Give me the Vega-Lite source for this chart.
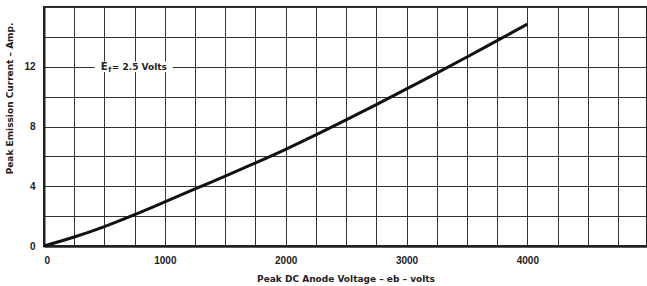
{
  "$schema": "https://vega.github.io/schema/vega-lite/v6.json",
  "autosize": "none",
  "padding": {"left": 44, "top": 7, "right": 0, "bottom": 40},
  "width": 603,
  "height": 239,
  "background": "white",
  "config": {
    "view": {"stroke": "#222", "strokeWidth": 2},
    "font": "DejaVu Sans",
    "axis": {
      "labelFont": "Liberation Sans Narrow, Liberation Sans",
      "labelFontWeight": "bold",
      "labelFontSize": 10,
      "labelColor": "#222",
      "titleFont": "DejaVu Sans",
      "titleFontWeight": "bold",
      "titleFontSize": 9,
      "titleColor": "#222",
      "grid": true,
      "gridColor": "#333",
      "gridOpacity": 1,
      "gridWidth": 1,
      "ticks": false,
      "domainColor": "#222"
    }
  },
  "datasets": {
    "curve": [
      {"v": 0, "i": 0},
      {"v": 250, "i": 0.6},
      {"v": 500, "i": 1.3},
      {"v": 750, "i": 2.1},
      {"v": 1000, "i": 2.95},
      {"v": 1250, "i": 3.82},
      {"v": 1500, "i": 4.68},
      {"v": 1750, "i": 5.56},
      {"v": 2000, "i": 6.47},
      {"v": 2250, "i": 7.44},
      {"v": 2500, "i": 8.44},
      {"v": 2750, "i": 9.47},
      {"v": 3000, "i": 10.52},
      {"v": 3250, "i": 11.57},
      {"v": 3500, "i": 12.65},
      {"v": 3750, "i": 13.75},
      {"v": 4000, "i": 14.85}
    ],
    "gap": [
      {"v": 420, "v2": 1065, "i": 11.65, "i2": 12.35}
    ],
    "label": [
      {"v": 470, "i": 12}
    ]
  },
  "encoding": {
    "x": {
      "field": "v", "type": "quantitative",
      "scale": {"domain": [0, 4990], "nice": false},
      "axis": {
        "values": [0,250,500,750,1000,1250,1500,1750,2000,2250,2500,2750,3000,3250,3500,3750,4000,4250,4500,4750],
        "labelExpr": "datum.value % 1000 === 0 ? datum.label : ''",
        "format": "d",
        "labelPadding": 9,
        "labelDx": 4,
        "domainWidth": 2.5,
        "title": "Peak DC Anode Voltage – eb – volts",
        "titlePadding": 9
      }
    },
    "y": {
      "field": "i", "type": "quantitative",
      "scale": {"domain": [0, 16], "nice": false},
      "axis": {
        "values": [0,2,4,6,8,10,12,14,16],
        "labelExpr": "datum.value % 4 === 0 && datum.value < 16 ? datum.label : ''",
        "labelPadding": 9,
        "domainWidth": 2,
        "title": "Peak Emission Current – Amp.",
        "titleY": 91,
        "titleX": -30
      }
    }
  },
  "layer": [
    {
      "data": {"name": "curve"},
      "mark": {"type": "line", "color": "#111", "strokeWidth": 3, "interpolate": "monotone"}
    },
    {
      "data": {"name": "gap"},
      "mark": {"type": "rect", "color": "white"},
      "encoding": {
        "x2": {"field": "v2"},
        "y2": {"field": "i2"}
      }
    },
    {
      "data": {"name": "label"},
      "mark": {"type": "text", "align": "left", "baseline": "middle", "font": "DejaVu Sans", "fontWeight": "bold", "fontSize": 10, "color": "#222", "text": "E"}
    },
    {
      "data": {"name": "label"},
      "mark": {"type": "text", "align": "left", "baseline": "middle", "font": "DejaVu Sans", "fontWeight": "bold", "fontSize": 7, "color": "#222", "text": "f", "dx": 7.5, "dy": 3}
    },
    {
      "data": {"name": "label"},
      "mark": {"type": "text", "align": "left", "baseline": "middle", "font": "DejaVu Sans", "fontWeight": "bold", "fontSize": 9, "color": "#222", "text": "= 2.5 Volts", "dx": 11}
    }
  ]
}
